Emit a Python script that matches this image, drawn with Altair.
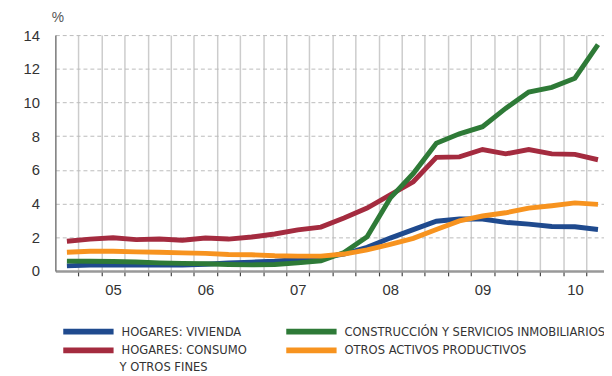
import altair as alt
import pandas as pd

# quarterly index: 0 = first quarter shown (late 2004) ... 23 = last quarter (2010)
quarters = list(range(24))
# legend is filled column by column: col 1 = hogares, col 2 = empresas
series_names = [
    "HOGARES: VIVIENDA",
    "HOGARES: CONSUMO Y OTROS FINES",
    "CONSTRUCCIÓN Y SERVICIOS INMOBILIARIOS",
    "OTROS ACTIVOS PRODUCTIVOS",
]
series_colors = ["#1f4a8e", "#a42b3f", "#2e7a37", "#f7931f"]

vivienda = [0.30, 0.35, 0.35, 0.35, 0.35, 0.35, 0.40, 0.47, 0.52, 0.58, 0.68, 0.80,
            1.00, 1.40, 1.95, 2.45, 2.95, 3.08, 3.08, 2.88, 2.78, 2.64, 2.62, 2.46]
consumo = [1.76, 1.89, 1.97, 1.86, 1.89, 1.82, 1.95, 1.89, 2.01, 2.19, 2.44, 2.60,
           3.14, 3.73, 4.51, 5.29, 6.74, 6.77, 7.21, 6.95, 7.21, 6.95, 6.92, 6.60]
construccion = [0.58, 0.57, 0.56, 0.53, 0.48, 0.45, 0.43, 0.38, 0.36, 0.38, 0.48, 0.60,
                1.09, 2.03, 4.32, 5.78, 7.58, 8.14, 8.56, 9.65, 10.62, 10.90, 11.44, 13.43]
otros = [1.11, 1.17, 1.17, 1.13, 1.11, 1.07, 1.04, 0.98, 0.96, 0.90, 0.88, 0.88,
         1.00, 1.25, 1.58, 1.93, 2.46, 2.97, 3.26, 3.45, 3.73, 3.87, 4.04, 3.95]

year_labels = ["05", "06", "07", "08", "09", "10"]
year_label_pos = [2, 6, 10, 14, 18, 22]
quarter_bounds = [k + 0.5 for k in range(23)]
y_ticks = [0, 2, 4, 6, 8, 10, 12, 14]

# draw order: blue, red, green, orange (orange on top)
rows = []
for name, vals in [(series_names[0], vivienda), (series_names[1], consumo),
                   (series_names[2], construccion), (series_names[3], otros)]:
    for q, v in zip(quarters, vals):
        rows.append({"q": q, "valor": v, "serie": name})
df = pd.DataFrame(rows)

pos_arr = "[" + ",".join(str(p) for p in year_label_pos) + "]"
lab_arr = "[" + ",".join("'" + s + "'" for s in year_labels) + "]"
x_label_expr = f"indexof({pos_arr}, datum.value) >= 0 ? {lab_arr}[indexof({pos_arr}, datum.value)] : ''"
is_bound = "datum.value % 1 != 0"

legend_font = "DejaVu Sans Condensed, Liberation Sans Narrow, sans-serif"
axis_font = "Liberation Sans, Arial, Helvetica, sans-serif"

PLOT_W = 556  # plot area is cut at the right edge of the window
lines = alt.Chart(df).mark_line(strokeWidth=5, strokeJoin="miter").encode(
    x=alt.X("q:Q",
            scale=alt.Scale(domain=[-0.5, -0.5 + PLOT_W / 23.4], nice=False, zero=False),
            axis=alt.Axis(
                title=None,
                values=sorted(quarter_bounds + year_label_pos),
                labelExpr=x_label_expr,
                labelOverlap=False,
                labelFlush=False,
                labelBound=False,
                labelFont=axis_font,
                labelFontSize=15,
                labelColor="#333333",
                labelPadding=7,
                domainColor="#999999",
                domainWidth=2.5,
                tickColor="#444444",
                tickSize=5,
                tickWidth=1.2,
                tickOpacity={"condition": {"test": is_bound, "value": 1}, "value": 0},
                grid=True,
                gridColor="#cccccc",
                gridWidth=1.5,
                gridOpacity={"condition": {"test": is_bound, "value": 1}, "value": 0},
            )),
    y=alt.Y("valor:Q",
            scale=alt.Scale(domain=[0, 14], nice=False),
            axis=alt.Axis(
                title="%",
                titleAngle=0,
                titleX=2,
                titleY=-18,
                titleAlign="center",
                titleBaseline="middle",
                titleFont=axis_font,
                titleFontSize=14,
                titleFontWeight="normal",
                titleColor="#555555",
                values=y_ticks,
                labelFont=axis_font,
                labelFontSize=15,
                labelColor="#333333",
                labelPadding=16,
                ticks=False,
                tickSize=0,
                domainColor="#777777",
                domainWidth=1.5,
                grid=True,
                gridColor="#bbbbbb",
                gridDash=[4, 3],
                gridWidth=1,
            )),
    color=alt.Color("serie:N",
                    scale=alt.Scale(domain=series_names, range=series_colors),
                    legend=alt.Legend(
                        title=None,
                        orient="none",
                        legendX=5,
                        legendY=291,
                        columns=2,
                        columnPadding=36,
                        rowPadding=0,
                        clipHeight=19,
                        padding=0,
                        symbolType="stroke",
                        symbolSize=2601,
                        symbolStrokeWidth=6,
                        labelOffset=5,
                        labelFont=legend_font,
                        labelFontSize=13,
                        labelColor="#333333",
                        labelLimit=400,
                        labelExpr="replace(datum.label, ' Y OTROS FINES', '')",
                    )),
    detail="serie:N",
)

extra = alt.Chart(pd.DataFrame({"t": ["Y OTROS FINES"]})).mark_text(
    align="left", baseline="middle", font=legend_font, fontSize=13, color="#333333"
).encode(text="t:N", x=alt.value(65), y=alt.value(336))

chart = alt.layer(lines, extra).properties(
    width=PLOT_W,
    height=239,
    autosize=alt.AutoSizeParams(type="none"),
    padding={"left": 48, "top": 25, "right": 0, "bottom": 102},
).configure_view(stroke=None)

chart.save("out.html", embed_options={"renderer": "svg", "actions": False})
